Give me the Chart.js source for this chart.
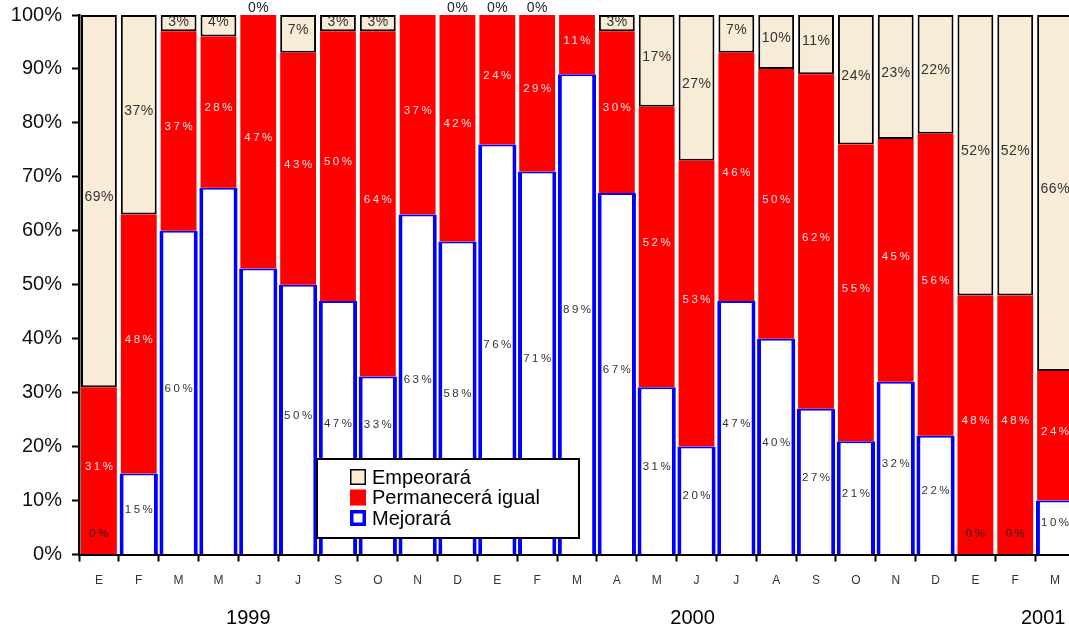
<!DOCTYPE html>
<html>
<head>
<meta charset="utf-8">
<script src="https://cdn.jsdelivr.net/npm/chart.js@4.4.1/dist/chart.umd.min.js"></script>
<style>
  html, body { margin: 0; padding: 0; background: #fff; overflow: hidden; }
  #wrap { position: relative; width: 1075px; height: 630px; }
</style>
</head>
<body>
<div id="wrap"><canvas id="expectativas"></canvas></div>
<script>
const meses = ['E','F','M','M','J','J','S','O','N','D',
               'E','F','M','A','M','J','J','A','S','O','N','D',
               'E','F','M'];
const anios = ['1999', '2000', '2001'];

const mejorara    = [0, 15, 60, 68, 53, 50, 47, 33, 63, 58, 76, 71, 89, 67, 31, 20, 47, 40, 27, 21, 32, 22, 0, 0, 10];
const permanecera = [31, 48, 37, 28, 47, 43, 50, 64, 37, 42, 24, 29, 11, 30, 52, 53, 46, 50, 62, 55, 45, 56, 48, 48, 24];
const empeorara   = [69, 37, 3, 4, 0, 7, 3, 3, null, 0, 0, 0, null, 3, 17, 27, 7, 10, 11, 24, 23, 22, 52, 52, 66];

// M y J de 1999 van sin etiqueta en Mejorará
const mejoraSinEtiqueta = [3, 4];

const FONT = "'Liberation Sans', Arial, sans-serif";
const BEIGE = '#F9ECD7';

const etiquetasPlugin = {
    id: 'etiquetas',
    afterDatasetsDraw(chart) {
        const ctx = chart.ctx;
        const top = chart.chartArea.top;
        chart.data.datasets.forEach((ds, di) => {
            const meta = chart.getDatasetMeta(di);
            const st = ds.etiqueta;
            meta.data.forEach((bar, i) => {
                const v = ds.data[i];
                if (v === null || st.ocultar.includes(i)) return;
                let y;
                if (v === 0) {
                    y = bar.y + st.offsetCero;
                } else {
                    y = Math.max((bar.y + bar.base) / 2 - 4, top + 7);
                    y += (st.ajuste && st.ajuste[i]) || 0;
                }
                ctx.save();
                ctx.font = st.font;
                ctx.letterSpacing = st.spacing + 'px';
                ctx.fillStyle = v === 0 ? '#222' : st.color;
                ctx.textAlign = 'center';
                ctx.textBaseline = 'middle';
                ctx.fillText(v + '%', bar.x + st.spacing / 2, y);
                ctx.restore();
            });
        });
    }
};

const leyendaPlugin = {
    id: 'leyenda',
    afterDraw(chart, args, opts) {
        const ctx = chart.ctx;
        const b = opts.box;
        ctx.save();
        ctx.fillStyle = '#fff';
        ctx.fillRect(b.x, b.y, b.w, b.h);
        ctx.strokeStyle = '#000';
        ctx.lineWidth = 2;
        ctx.strokeRect(b.x, b.y, b.w, b.h);
        const items = chart.data.datasets.slice().reverse();
        items.forEach((ds, k) => {
            const cy = b.y + opts.firstRow + k * opts.rowGap;
            const sx = b.x + opts.swatchX, s = 16;
            ctx.fillStyle = ds.backgroundColor;
            ctx.fillRect(sx, cy - s / 2, s, s);
            if (ds.leyendaBorde) {
                const lw = ds.leyendaBorde.width;
                ctx.strokeStyle = ds.leyendaBorde.color;
                ctx.lineWidth = lw;
                ctx.strokeRect(sx + lw / 2, cy - s / 2 + lw / 2, s - lw, s - lw);
            }
            ctx.fillStyle = '#000';
            ctx.font = '20px ' + FONT;
            ctx.textAlign = 'left';
            ctx.textBaseline = 'middle';
            ctx.fillText(ds.label, b.x + opts.textX, cy + 1);
        });
        ctx.restore();
    }
};

const aniosPlugin = {
    id: 'anios',
    afterDraw(chart, args, opts) {
        const ctx = chart.ctx;
        const xs = chart.scales.x;
        ctx.save();
        ctx.fillStyle = '#000';
        ctx.font = '20px ' + FONT;
        ctx.textAlign = 'center';
        ctx.textBaseline = 'middle';
        anios.forEach((a, k) => {
            ctx.fillText(a, xs.getPixelForValue(opts.pos[k]), opts.y);
        });
        ctx.restore();
    }
};

new Chart(document.getElementById('expectativas'), {
    type: 'bar',
    data: {
        labels: meses,
        datasets: [
            {
                label: 'Mejorará',
                data: mejorara,
                backgroundColor: '#FFFFFF',
                borderColor: '#0000FF',
                borderWidth: { left: 4, right: 4, top: 2, bottom: 0 },
                borderSkipped: false,
                categoryPercentage: 1,
                barPercentage: 0.96,
                leyendaBorde: { color: '#0000FF', width: 3.5 },
                etiqueta: { font: '11.5px ' + FONT, spacing: 2.5, color: '#333', offsetCero: -21, ocultar: mejoraSinEtiqueta, ajuste: { 7: -36 } }
            },
            {
                label: 'Permanecerá igual',
                data: permanecera,
                backgroundColor: '#FF0000',
                borderWidth: 0,
                categoryPercentage: 1,
                barPercentage: 0.9,
                etiqueta: { font: '11.5px ' + FONT, spacing: 2.5, color: '#FFE4E4', offsetCero: -21, ocultar: [] }
            },
            {
                label: 'Empeorará',
                data: empeorara,
                backgroundColor: BEIGE,
                borderColor: '#000000',
                borderWidth: 2,
                borderSkipped: false,
                categoryPercentage: 1,
                barPercentage: 0.9,
                leyendaBorde: { color: '#000000', width: 1.5 },
                etiqueta: { font: '14px ' + FONT, spacing: 0.5, color: '#333', offsetCero: -7, ocultar: [] }
            }
        ]
    },
    options: {
        responsive: true,
        maintainAspectRatio: false,
        animation: false,
        layout: { padding: { top: 15, left: 0, right: 0, bottom: 0 } },
        plugins: {
            legend: { display: false },
            tooltip: { enabled: false },
            leyenda: { box: { x: 317, y: 459, w: 262, h: 79 }, swatchX: 33, textX: 55, firstRow: 18, rowGap: 20.5 },
            anios: { pos: [3.75, 14.9, 23.7], y: 618 }
        },
        scales: {
            x: {
                stacked: true,
                afterFit: (s) => { s.height = 75.5; s.paddingLeft = 0; s.paddingRight = 0; },
                grid: { display: true, drawOnChartArea: false, offset: true, tickLength: 7, color: '#000', tickWidth: 2 },
                border: { color: '#000', width: 2 },
                ticks: { color: '#333', font: { family: FONT, size: 12 }, padding: 12, autoSkip: false, maxRotation: 0 }
            },
            y: {
                stacked: true,
                min: 0,
                max: 100,
                afterFit: (s) => { s.width = 79; s.paddingTop = 0; s.paddingBottom = 0; },
                grid: { display: true, drawOnChartArea: false, tickLength: 7, color: '#000', tickWidth: 2 },
                border: { color: '#000', width: 2.5 },
                ticks: { stepSize: 10, color: '#111', padding: 10, font: { family: FONT, size: 20 }, callback: (v) => v + '%' }
            }
        }
    },
    plugins: [etiquetasPlugin, leyendaPlugin, aniosPlugin]
});
</script>
</body>
</html>
